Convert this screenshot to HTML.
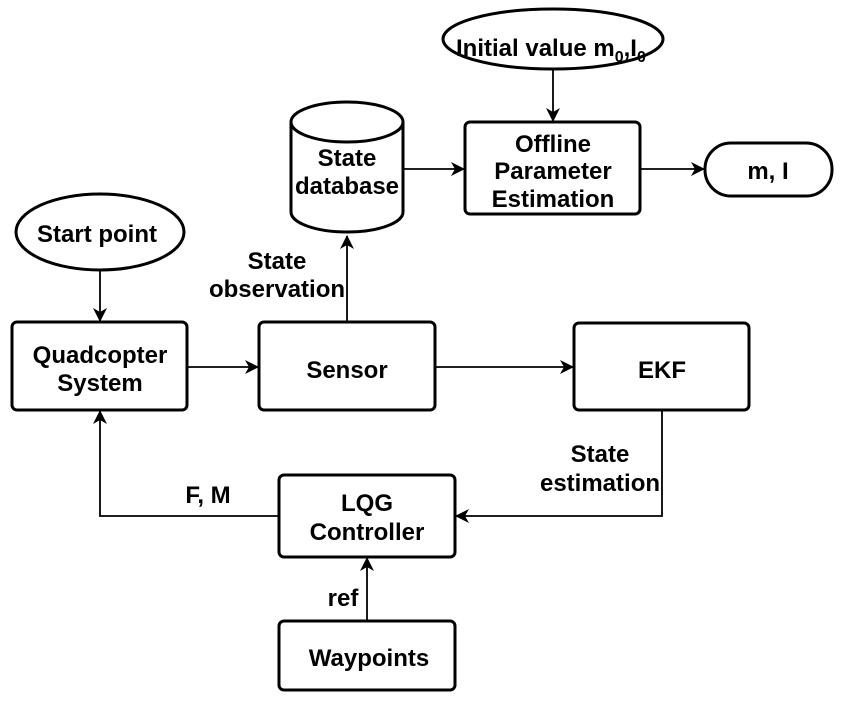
<!DOCTYPE html>
<html><head><style>body{margin:0;background:#fff}svg text{font-family:"Liberation Sans",Arial,sans-serif;font-weight:bold;font-size:24px;fill:#000}</style></head>
<body>
<svg width="852" height="703" viewBox="0 0 852 703" xmlns="http://www.w3.org/2000/svg">
<defs><marker id="a" markerWidth="14" markerHeight="14" refX="13" refY="7" orient="auto" markerUnits="userSpaceOnUse"><path d="M0,0 L14,7 L0,14 L4,7 Z" fill="#000"/></marker></defs>
<g fill="none" stroke="#000" stroke-width="3">
<ellipse cx="553" cy="39" rx="110" ry="30"/>
<rect x="465" y="122" width="175" height="92" rx="5"/>
<rect x="705" y="143" width="127" height="53" rx="26"/>
<path d="M291,122 A56,20 0 0 1 403,122 L403,212 A56,20 0 0 1 291,212 Z"/>
<path d="M291,122 A56,20 0 0 0 403,122"/>
<ellipse cx="100" cy="232" rx="84" ry="38"/>
<rect x="12" y="322" width="175" height="88" rx="5"/>
<rect x="259" y="322" width="176" height="88" rx="5"/>
<rect x="574" y="323" width="175" height="87" rx="5"/>
<rect x="279" y="475" width="176" height="82" rx="5"/>
<rect x="279" y="621" width="176" height="69" rx="5"/>
</g>
<g fill="none" stroke="#000" stroke-width="1.8" marker-end="url(#a)">
<line x1="553" y1="69" x2="553" y2="121"/>
<line x1="404" y1="169" x2="464" y2="169"/>
<line x1="640" y1="169" x2="704" y2="169"/>
<line x1="100" y1="270" x2="100" y2="321"/>
<line x1="187" y1="367" x2="258" y2="367"/>
<line x1="435" y1="367" x2="573" y2="367"/>
<line x1="347" y1="322" x2="347" y2="236"/>
<polyline points="662,410 662,516 456,516"/>
<polyline points="279,516 100,516 100,411"/>
<line x1="367" y1="621" x2="367" y2="558"/>
</g>
<text x="456" y="56">Initial value m<tspan font-size="16" dy="6">0</tspan><tspan dy="-6">,I</tspan><tspan font-size="16" dy="6">0</tspan></text>
<g text-anchor="middle">
<text x="553" y="152">Offline</text>
<text x="553" y="179">Parameter</text>
<text x="553" y="207">Estimation</text>
<text x="768" y="179">m, I</text>
<text x="347" y="166">State</text>
<text x="347" y="194">database</text>
<text x="97" y="242">Start  point</text>
<text x="100" y="363">Quadcopter</text>
<text x="100" y="391">System</text>
<text x="347" y="378">Sensor</text>
<text x="662" y="378">EKF</text>
<text x="367" y="511">LQG</text>
<text x="367" y="540">Controller</text>
<text x="369" y="666">Waypoints</text>
<text x="277" y="269">State</text>
<text x="277" y="297">observation</text>
<text x="600" y="462">State</text>
<text x="600" y="491">estimation</text>
<text x="208" y="503">F, M</text>
<text x="343" y="606">ref</text>
</g>
</svg>
</body></html>
